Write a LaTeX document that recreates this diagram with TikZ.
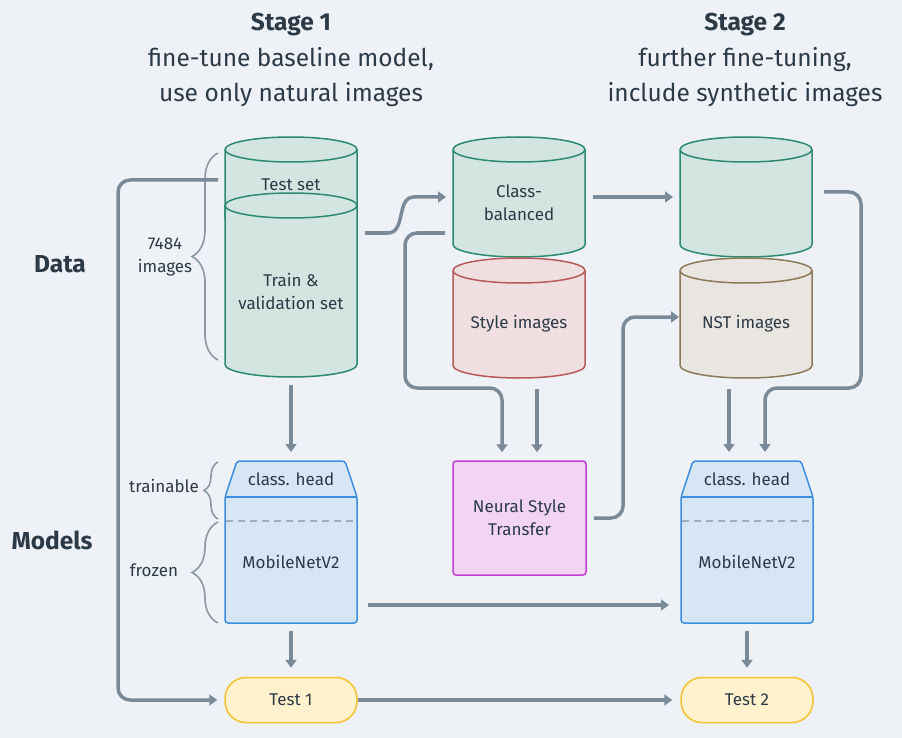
\documentclass[tikz,border=0pt]{standalone}
\usepackage{fontspec}
\setmainfont{Fira Sans}
\usetikzlibrary{arrows.meta,decorations.pathreplacing,calc}
\definecolor{bgc}{HTML}{EEF2F6}
\definecolor{arc}{HTML}{7B8A99}
\definecolor{txc}{HTML}{2C3A47}
\definecolor{grf}{HTML}{D2E5E1}
\definecolor{grd}{HTML}{2B8A6F}
\definecolor{rdf}{HTML}{F0DFE0}
\definecolor{rdd}{HTML}{B85A5A}
\definecolor{tnf}{HTML}{E9E5E0}
\definecolor{tnd}{HTML}{8C7A58}
\definecolor{blf}{HTML}{D6E6F5}
\definecolor{bld}{HTML}{3B8FDF}
\definecolor{pkf}{HTML}{F2D5F3}
\definecolor{pkd}{HTML}{C23FD3}
\definecolor{ylf}{HTML}{FFF2CD}
\definecolor{yld}{HTML}{F6C231}
\definecolor{brc}{HTML}{8A98A5}
\tikzset{
  arr/.style={draw=arc, line width=3.5pt, rounded corners=12pt, -{Triangle[width=11pt,length=8pt]}},
  lbl/.style={text=txc, font=\fontsize{17}{23}\selectfont, align=center},
  ttl/.style={text=txc, font=\fontsize{24.5}{35}\selectfont, align=center},
  hdr/.style={text=txc, font=\fontsize{24.5}{28}\selectfont\bfseries},
  green cyl/.style={fill=grf, draw=grd, line width=1.5pt},
  red cyl/.style={fill=rdf, draw=rdd, line width=1.5pt},
  tan cyl/.style={fill=tnf, draw=tnd, line width=1.5pt},
  modelbox/.style={fill=blf, draw=bld, line width=1.5pt, rounded corners=3pt},
  nstbox/.style={fill=pkf, draw=pkd, line width=1.5pt, rounded corners=3pt},
  testbox/.style={fill=ylf, draw=yld, line width=1.5pt, rounded corners=21pt},
  bracestyle/.style={draw=brc, line width=1.6pt, decorate},
  hole/.style={inner sep=0pt, outer sep=0pt, minimum width=132pt}
}
% #1 name, #2 centre, #3 height, #4 style, #5 text
\newcommand\dbcyl[5]{%
  \node[hole, minimum height=#3] (#1) at #2 {};
  \filldraw[#4] ([yshift=-12.5pt]#1.north west) -- ([yshift=12.5pt]#1.south west)
     arc[start angle=180,end angle=360,x radius=66pt,y radius=12.5pt]
     -- ([yshift=-12.5pt]#1.north east)
     arc[start angle=0,end angle=180,x radius=66pt,y radius=12.5pt] -- cycle;
  \draw[#4, fill=none] ([yshift=-12.5pt]#1.north west)
     arc[start angle=180,end angle=360,x radius=66pt,y radius=12.5pt];
  \node[lbl] (#1-t) at ([yshift=-6pt]#1.center) {#5};
}
% #1 name, #2 centre x
\newcommand\modelnode[2]{%
  \node[hole, minimum height=162pt] (#1) at (#2,542) {};
  \draw[modelbox] (#1.south west) -- (#2-66,497) -- (#2-54,461) -- (#2+54,461)
     -- (#2+66,497) -- (#1.south east) -- cycle;
  \draw[draw=bld, line width=1.5pt] (#2-66,497) -- (#2+66,497);
  \draw[draw=brc!80, line width=1.3pt, dash pattern=on 7pt off 5pt] (#2-65,521) -- (#2+65,521);
  \node[lbl] (#1-h) at (#2,479) {class. head};
  \node[lbl] (#1-b) at (#2,562) {MobileNetV2};
}
\begin{document}
\begin{tikzpicture}[x=1pt,y=-1pt]
\fill[bgc] (0,0) rectangle (902,738);
\useasboundingbox (0,0) rectangle (902,738);

% titles
\node[hdr] (s1) at (291,25) {Stage 1};
\node[ttl] (s1a) at (291,77) {fine-tune baseline model,\\use only natural images};
\node[hdr] (s2) at (745,25) {Stage 2};
\node[ttl] (s2a) at (745,77) {further fine-tuning,\\include synthetic images};
\node[hdr] (data) at (60,264) {Data};
\node[hdr] (models) at (52,540) {Models};

% data cylinders
\dbcyl{test}{(291,184)}{94pt}{green cyl}{}
\node[lbl] (test-l) at (291,185) {Test set};
\dbcyl{train}{(291,285)}{184pt}{green cyl}{}
\node[lbl] (train-l) at (291,291) {Train \&\\validation set};
\dbcyl{cb}{(519,197)}{120pt}{green cyl}{Class-\\balanced}
\dbcyl{style}{(519,318)}{120pt}{red cyl}{Style images}
\dbcyl{ctwo}{(746,197)}{120pt}{green cyl}{}
\dbcyl{nsti}{(746,318)}{120pt}{tan cyl}{NST images}

% braces
\draw[bracestyle, decoration={brace, amplitude=26pt}] (218,360) -- (218,153);
\node[lbl] (nimg) at (165,257) {7484\\images};
\draw[bracestyle, decoration={brace, amplitude=14pt}] (218,519) -- (218,462);
\node[lbl] (trl) at (164,486) {trainable};
\draw[bracestyle, decoration={brace, amplitude=26pt}] (218,623) -- (218,522);
\node[lbl] (frl) at (154,570) {frozen};

% models
\modelnode{mone}{291}
\modelnode{mtwo}{747}

% NST box
\node[nstbox, minimum width=133pt, minimum height=114pt, lbl] (nst) at (519.5,518) {Neural Style\\Transfer};

% tests
\node[testbox, minimum width=132pt, minimum height=45pt, lbl] (tone) at (291,700) {Test 1};
\node[testbox, minimum width=132pt, minimum height=45pt, lbl] (ttwo) at (747,700) {Test 2};

% connectors
\draw[arr, shorten <=7pt, shorten >=7pt] (test.west |- 0,180) -- (118,180) -- (118,700) -- (tone.west);
\draw[arr, shorten <=8pt, shorten >=7pt, rounded corners=0pt] (train.east |- 0,233) -- (388,233)
   .. controls (406,233) and (396,197) .. (414,197) -- (cb.west);
\draw[arr, shorten <=8pt, shorten >=8pt] (cb.west |- 0,233) -- (405,233) -- (405,388) -- (502,388) -- (nst.north -| 502,0);
\draw[arr, shorten <=11pt, shorten >=8pt] (style.south -| 537,0) -- (nst.north -| 537,0);
\draw[arr, shorten <=7pt, shorten >=1pt] (nst.east) -- (623,518) -- (623,317) -- (nsti.west |- 0,317);
\draw[arr, shorten <=8pt, shorten >=7pt] (cb.east) -- (ctwo.west);
\draw[arr, shorten <=12pt, shorten >=9pt] (ctwo.east |- 0,192) -- (861,192) -- (861,388) -- (765,388) -- (mtwo.north -| 765,0);
\draw[arr, shorten <=11pt, shorten >=9pt] (nsti.south -| 729,0) -- (mtwo.north -| 729,0);
\draw[arr, shorten <=8pt, shorten >=9pt] (train.south) -- (mone.north);
\draw[arr, shorten <=8pt, shorten >=9pt] (mone.south) -- (tone.north);
\draw[arr, shorten <=11pt, shorten >=12pt] (mone.east |- 0,605) -- (mtwo.west |- 0,605);
\draw[arr, shorten <=8pt, shorten >=9pt] (mtwo.south) -- (ttwo.north);
\draw[arr, shorten >=8pt] (tone.east) -- (ttwo.west);
\end{tikzpicture}
\end{document}
